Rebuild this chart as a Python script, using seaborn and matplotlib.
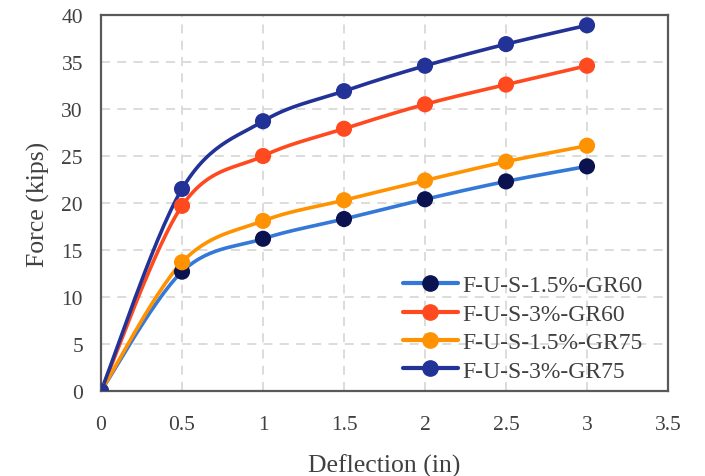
import numpy as np
import pandas as pd
import seaborn as sns
import matplotlib.pyplot as plt
from matplotlib.lines import Line2D

# Data
deflection = [0, 0.5, 1, 1.5, 2, 2.5, 3]
gr60_15 = [0, 12.7, 16.2, 18.3, 20.4, 22.3, 23.9]
gr60_3 = [0, 19.7, 25.0, 27.9, 30.5, 32.6, 34.6]
gr75_15 = [0, 13.7, 18.1, 20.3, 22.4, 24.4, 26.1]
gr75_3 = [0, 21.5, 28.7, 31.9, 34.6, 36.9, 38.9]

labels = ["F-U-S-1.5%-GR60", "F-U-S-3%-GR60", "F-U-S-1.5%-GR75", "F-U-S-3%-GR75"]
series = [gr60_15, gr60_3, gr75_15, gr75_3]
line_colors = ["#3478D8", "#FF4A1F", "#FF9200", "#233296"]
marker_colors = ["#0B1250", "#FF4A1F", "#FF9200", "#233296"]


def smooth(x, y, n=30):
    # Excel-like smoothed line (Catmull-Rom through the points)
    p = np.column_stack([x, y]).astype(float)
    pts = np.vstack([p[0], p, p[-1]])
    out = []
    t = np.linspace(0, 1, n)[:, None]
    for i in range(1, len(pts) - 2):
        p0, p1, p2, p3 = pts[i - 1], pts[i], pts[i + 1], pts[i + 2]
        c1 = p1 + (p2 - p0) / 6
        c2 = p2 - (p3 - p1) / 6
        seg = ((1 - t) ** 3) * p1 + 3 * ((1 - t) ** 2) * t * c1 + 3 * (1 - t) * t ** 2 * c2 + t ** 3 * p2
        out.append(seg)
    out = np.vstack(out)
    return out[:, 0], out[:, 1]


sns.set_theme(style="white")
plt.rcParams["font.family"] = ["Liberation Serif", "DejaVu Serif"]

fig = plt.figure(figsize=(7.05, 4.77), dpi=100)
ax = fig.add_axes([0.1433, 0.178, 0.8042, 0.7885])

handles = []
for lab, vals, lc, mc in zip(labels, series, line_colors, marker_colors):
    sx, sy = smooth(deflection, vals)
    ax.plot(sx, sy, color=lc, lw=2.6, solid_capstyle="round", zorder=3)
    df = pd.DataFrame({"x": deflection, "y": vals})
    sns.scatterplot(data=df, x="x", y="y", ax=ax, color=mc, s=135, edgecolor="none", zorder=4)
    handles.append(Line2D([], [], color=lc, lw=3, marker="o", markersize=11,
                          markerfacecolor=mc, markeredgecolor=mc))

ax.set_xlim(0, 3.5)
ax.set_ylim(0, 40)
ax.set_xticks(np.arange(0, 3.51, 0.5))
ax.set_xticklabels(["0", "0.5", "1", "1.5", "2", "2.5", "3", "3.5"])
ax.set_yticks(np.arange(0, 41, 5))
ax.grid(True, color="#D9D9D9", linestyle=(0, (5, 4)), lw=1.3)
ax.set_axisbelow(True)
for s in ax.spines.values():
    s.set_color("#595959")
    s.set_linewidth(1.6)
ax.tick_params(length=0, labelsize=15.5, labelcolor="#404040")
ax.tick_params(axis="x", pad=17)
ax.tick_params(axis="y", pad=13)
ax.set_xlabel("Deflection (in)", fontsize=18.5, color="#404040", labelpad=14)
ax.set_ylabel("Force (kips)", fontsize=18.5, color="#404040", labelpad=8)

ax.legend(handles, labels, loc="upper left", frameon=False, fontsize=17,
          labelcolor="#404040", handlelength=2.3, handletextpad=0.22,
          labelspacing=0.29, borderaxespad=0, borderpad=0,
          bbox_to_anchor=(0.533, 0.309))

fig.savefig("out.png", dpi=100)
